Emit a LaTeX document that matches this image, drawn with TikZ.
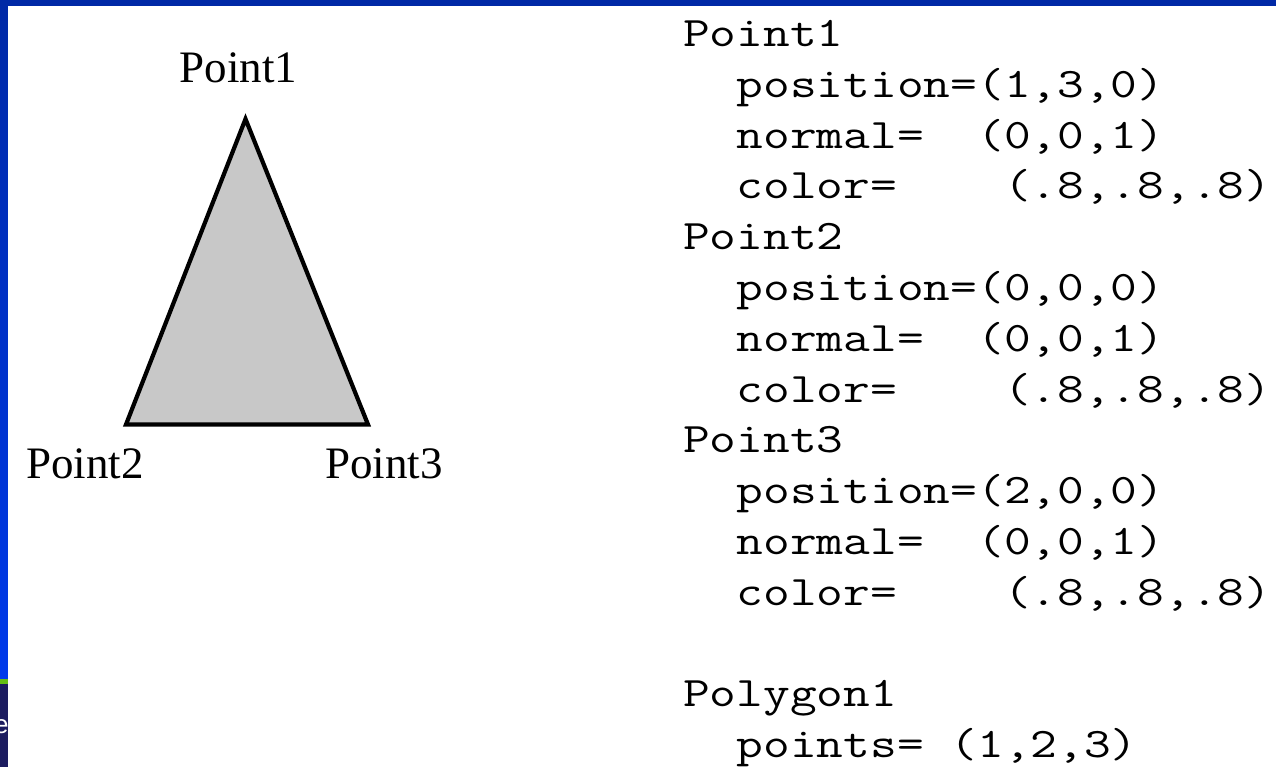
\documentclass[tikz,border=0pt]{standalone}
\usepackage{fontspec}
\newfontfamily\tms{Liberation Serif}
\newfontfamily\cour[FakeStretch=1.236]{Latin Modern Mono}
\newfontfamily\lsans{Liberation Sans}
\definecolor{barblue}{RGB}{0,41,166}
\definecolor{barbright}{RGB}{0,58,235}
\definecolor{bargreen}{RGB}{100,190,20}
\definecolor{barnavy}{RGB}{28,28,96}
\definecolor{trigray}{RGB}{200,200,200}
\begin{document}
\begin{tikzpicture}[x=1pt,y=-1pt,
  lbl/.style={font=\tms\fontsize{45}{54}\selectfont, inner sep=0pt, anchor=base},
  code/.style={font=\cour\fontsize{42}{50}\selectfont, inner sep=0pt, anchor=base west},
  tri/.style={line width=4.2pt, fill=trigray, draw=black, line join=miter}]
\useasboundingbox (0,0) rectangle (1276,767);
\fill[white] (0,0) rectangle (1276,767);
% frame
\fill[barblue] (0,0) rectangle (1276,6);
\shade[top color=barblue,bottom color=barbright] (0,0) rectangle (7.5,679);
\fill[bargreen] (0,679) rectangle (7.5,684);
\fill[barnavy] (0,684) rectangle (7.5,767);
\begin{scope}
\clip (0,684) rectangle (7.5,767);
\node[white, font=\lsans\fontsize{26}{30}\selectfont, anchor=base west, inner sep=0pt] (e) at (-6,733) {e};
\end{scope}
% triangle
\coordinate (p1) at (245.5,119);
\coordinate (p2) at (126,424.5);
\coordinate (p3) at (368,424.5);
\draw[tri] (p1) -- (p2) -- (p3) -- cycle;
\node[lbl] (l1) at (238.5,83) {Point1};
\node[lbl] (l2) at (85,478) {Point2};
\node[lbl] (l3) at (384,478) {Point3};
% code listing
\node[code] (c0) at (683,46.5) {Point1};
\node[code] (c1) at (683,97.3) {\hphantom{xx}position=(1,3,0)};
\node[code] (c2) at (683,148.1) {\hphantom{xx}normal=\hphantom{xx}(0,0,1)};
\node[code] (c3) at (683,198.9) {\hphantom{xx}color=\hphantom{xxxx}(.8,.8,.8)};
\node[code] (c4) at (683,249.7) {Point2};
\node[code] (c5) at (683,300.5) {\hphantom{xx}position=(0,0,0)};
\node[code] (c6) at (683,351.3) {\hphantom{xx}normal=\hphantom{xx}(0,0,1)};
\node[code] (c7) at (683,402.1) {\hphantom{xx}color=\hphantom{xxxx}(.8,.8,.8)};
\node[code] (c8) at (683,452.9) {Point3};
\node[code] (c9) at (683,503.7) {\hphantom{xx}position=(2,0,0)};
\node[code] (c10) at (683,554.5) {\hphantom{xx}normal=\hphantom{xx}(0,0,1)};
\node[code] (c11) at (683,605.3) {\hphantom{xx}color=\hphantom{xxxx}(.8,.8,.8)};
\node[code] (c13) at (683,706.9) {Polygon1};
\node[code] (c14) at (683,757.7) {\hphantom{xx}points=\hphantom{x}(1,2,3)};
\end{tikzpicture}
\end{document}
